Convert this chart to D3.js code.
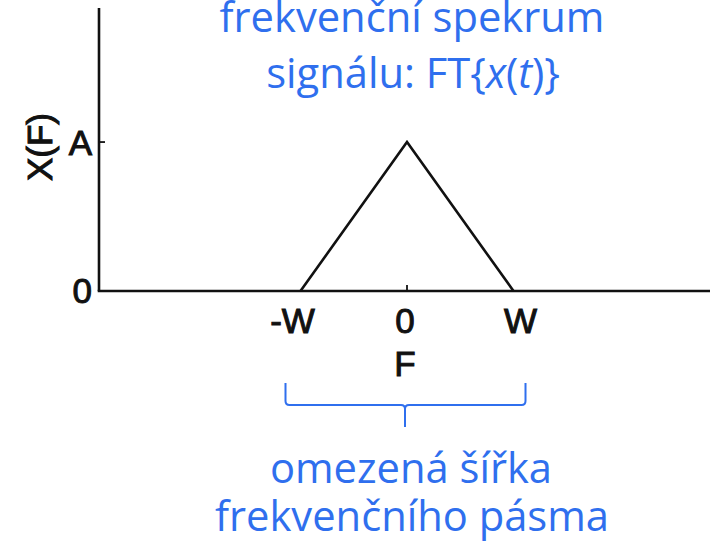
<!DOCTYPE html>
<html>
<head>
<meta charset="utf-8">
<script src="https://cdn.jsdelivr.net/npm/d3@7"></script>
<style>
  html, body { margin: 0; padding: 0; background: #fff; }
  svg { display: block; }
</style>
</head>
<body>
<svg id="chart" width="710" height="550"></svg>
<script>
// Triangular band-limited spectrum X(F), in units of W (frequency) and A (amplitude)
const spectrumF = [-1, 0, 1];
const spectrumX = [0, 1, 0];
const freqTicks = [-1, 0, 1];
const freqTickLabels = ["-W", "0", "W"];
const ampTicks = [0, 1];
const ampTickLabels = ["0", "A"];
const titleLines = ["frekvenční spekrum", "signálu: FT{x(t)}"];
const noteLines = ["omezená šířka", "frekvenčního pásma"];

const svg = d3.select("#chart");
const ink = "#111";
const blue = "#2f6fee";

// scales: axis origin at (99, 291), W ≈ 106.5 px, A ≈ 149 px
const x = d3.scaleLinear().domain([-2.892, 2.845]).range([99, 710]);
const y = d3.scaleLinear().domain([0, 1.9]).range([291, 8]);

// axes
const axisStyle = s => s.attr("stroke", ink).attr("stroke-width", 2.6).attr("fill", "none");
svg.append("line").attr("x1", x(x.domain()[0])).attr("x2", x(x.domain()[1]))
  .attr("y1", y(0)).attr("y2", y(0)).call(axisStyle).attr("stroke-linecap", "square");
svg.append("line").attr("x1", x(x.domain()[0])).attr("x2", x(x.domain()[0]))
  .attr("y1", y(0)).attr("y2", y(y.domain()[1])).call(axisStyle);

// tick at A on the amplitude axis, tick at 0 on the frequency axis
svg.append("line").attr("x1", x(x.domain()[0])).attr("x2", x(x.domain()[0]) + 6)
  .attr("y1", y(ampTicks[1])).attr("y2", y(ampTicks[1])).call(axisStyle).attr("stroke-width", 1.8);
svg.append("line").attr("x1", x(0)).attr("x2", x(0))
  .attr("y1", y(0)).attr("y2", y(0) - 6).call(axisStyle).attr("stroke-width", 1.8);

// spectrum triangle
const line = d3.line().x((d, i) => x(spectrumF[i])).y(d => y(d));
svg.append("path").datum(spectrumX).attr("d", line)
  .attr("fill", "none").attr("stroke", ink).attr("stroke-width", 2.6)
  .attr("stroke-linejoin", "miter");

// black axis labels
const labelFont = s => s.attr("font-family", "'Liberation Sans', Arial, sans-serif")
  .attr("font-size", 35).attr("fill", ink).attr("stroke", ink).attr("stroke-width", 1);

const tickNudge = [-8, -2, 7];
svg.selectAll("text.ftick").data(freqTicks).join("text")
  .attr("class", "ftick")
  .attr("x", (d, i) => x(d) + tickNudge[i]).attr("y", 333)
  .attr("text-anchor", "middle").call(labelFont)
  .text((d, i) => freqTickLabels[i]);

svg.append("text").attr("x", x(0) - 2).attr("y", 376)
  .attr("text-anchor", "middle").call(labelFont).text("F");

svg.selectAll("text.atick").data(ampTicks).join("text")
  .attr("class", "atick")
  .attr("x", 92).attr("y", d => y(d) + (d === 0 ? 12 : 13))
  .attr("text-anchor", "end").call(labelFont)
  .text((d, i) => ampTickLabels[i]);

svg.append("text")
  .attr("transform", "translate(52,147) rotate(-90)")
  .attr("text-anchor", "middle").call(labelFont).text("X(F)");

// blue annotations
const blueFont = "'Open Sans', 'Noto Sans', sans-serif";
function fitSize(str, target) {
  const t = svg.append("text").attr("font-family", blueFont).attr("font-size", 100).text(str);
  const w = t.node().getComputedTextLength();
  t.remove();
  return 100 * target / w;
}
const blueSize = fitSize(titleLines[0], 385);

function blueText(cx, baseline) {
  return svg.append("text").attr("x", cx).attr("y", baseline)
    .attr("text-anchor", "middle").attr("font-family", blueFont)
    .attr("font-size", blueSize).attr("fill", blue);
}

blueText(412, 32).text(titleLines[0]);

// second title line with italic x and t
const t2 = blueText(413, 88);
const parts = [["signálu: FT{", false], ["x", true], ["(", false], ["t", true], [")}", false]];
parts.forEach(([s, it]) => t2.append("tspan").attr("font-style", it ? "italic" : "normal").text(s));

blueText(411, 483).text(noteLines[0]);
blueText(412, 531).text(noteLines[1]);

// curly brace spanning the band -W..W
const bL = x(freqTicks[0]) - 15, bR = x(freqTicks[2]) + 12, bM = x(0) - 2;
const bTop = 383, bMid = 405, bTip = 427, r = 4;
const brace = d3.path();
brace.moveTo(bL, bTop);
brace.lineTo(bL, bMid - r);
brace.quadraticCurveTo(bL, bMid, bL + r, bMid);
brace.lineTo(bM - r, bMid);
brace.quadraticCurveTo(bM, bMid, bM, bMid + r);
brace.lineTo(bM, bTip);
brace.moveTo(bM, bMid + r);
brace.quadraticCurveTo(bM, bMid, bM + r, bMid);
brace.lineTo(bR - r, bMid);
brace.quadraticCurveTo(bR, bMid, bR, bMid - r);
brace.lineTo(bR, bTop);
svg.append("path").attr("d", brace.toString())
  .attr("fill", "none").attr("stroke", blue).attr("stroke-width", 2);
</script>
</body>
</html>
